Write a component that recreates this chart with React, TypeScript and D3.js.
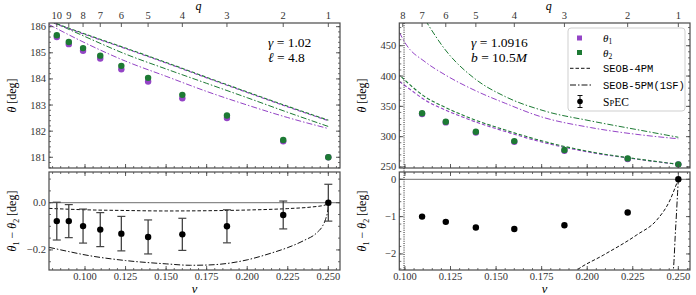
import React from "react";
import * as d3 from "d3";

// mass ratios and the symmetric mass ratio nu for each
const qAll = [10, 9, 8, 7, 6, 5, 4, 3, 2, 1];
const nuAll = [0.0826, 0.09, 0.0988, 0.1094, 0.1224, 0.1389, 0.16, 0.1875, 0.2222, 0.25];

// left case: gamma = 1.02, l = 4.8
const leftTheta1 = [185.6, 185.33, 185.08, 184.78, 184.37, 183.9, 183.26, 182.5, 181.61, 181.0];
const leftTheta2 = [185.67, 185.41, 185.18, 184.89, 184.5, 184.04, 183.39, 182.6, 181.66, 181.0];
const leftDiff = [-0.078, -0.078, -0.099, -0.114, -0.131, -0.145, -0.134, -0.1, -0.052, 0.0];
const leftDiffErr = [0.08, 0.07, 0.072, 0.072, 0.073, 0.072, 0.068, 0.07, 0.059, 0.078];

const left4PMTheta1: [number, number][] = [[0.0778, 186.2], [0.1, 185.7], [0.125, 185.16], [0.15, 184.61], [0.175, 184.04], [0.2, 183.48], [0.225, 182.93], [0.25, 182.4]];
const left4PMTheta2: [number, number][] = [[0.0778, 186.22], [0.1, 185.72], [0.125, 185.18], [0.15, 184.63], [0.175, 184.06], [0.2, 183.5], [0.225, 182.95], [0.25, 182.42]];
const left5PMTheta1: [number, number][] = [[0.0778, 186.08], [0.1, 185.38], [0.125, 184.68], [0.15, 184.1], [0.175, 183.52], [0.2, 183.0], [0.225, 182.52], [0.25, 182.1]];
const left5PMTheta2: [number, number][] = [[0.0808, 186.16], [0.1, 185.62], [0.125, 184.95], [0.15, 184.38], [0.175, 183.83], [0.2, 183.28], [0.225, 182.72], [0.25, 182.18]];
const left4PMDiff: [number, number][] = [[0.0778, -0.024], [0.1, -0.03], [0.125, -0.033], [0.15, -0.035], [0.175, -0.034], [0.2, -0.031], [0.225, -0.025], [0.24, -0.018], [0.248, -0.01], [0.25, 0]];
const left5PMDiff: [number, number][] = [[0.0778, -0.189], [0.09, -0.207], [0.1, -0.221], [0.125, -0.245], [0.15, -0.259], [0.165, -0.265], [0.175, -0.264], [0.19, -0.255], [0.2, -0.242], [0.215, -0.213], [0.225, -0.19], [0.235, -0.16], [0.2428, -0.128], [0.2465, -0.098], [0.2485, -0.066], [0.2497, -0.03], [0.25, 0]];

// right case: gamma = 1.0916, b = 10.5M  (q = 7 ... 1)
const rightNu = [0.1094, 0.1224, 0.1389, 0.16, 0.1875, 0.2222, 0.25];
const rightTheta1 = [337.5, 323.5, 306.7, 291.4, 276.7, 263.2, 254.3];
const rightTheta2 = [338.5, 324.6, 308.0, 292.7, 277.9, 264.1, 254.3];
const rightDiff = [-1.0, -1.14, -1.29, -1.33, -1.23, -0.89, 0.0];
const rightDiffErr = [0.03, 0.03, 0.03, 0.03, 0.03, 0.03, 0.03];

const right4PMTheta1: [number, number][] = [[0.0969, 391], [0.1009, 382.3], [0.111, 360.4], [0.1222, 344], [0.1386, 324.5], [0.1551, 308.5], [0.1745, 291.5], [0.2019, 274], [0.2293, 262], [0.25, 254.3]];
const right4PMTheta2: [number, number][] = [[0.0969, 402], [0.1009, 390.6], [0.111, 365.8], [0.1222, 348.3], [0.1386, 327.4], [0.1551, 310.9], [0.1745, 293.5], [0.2019, 275], [0.2293, 262.5], [0.25, 254.5]];
const right5PMTheta1: [number, number][] = [[0.0969, 472], [0.1009, 451], [0.111, 423.6], [0.1222, 401.7], [0.1386, 376], [0.1551, 355], [0.1745, 333], [0.2019, 315], [0.2293, 303], [0.25, 296.5]];
const right5PMTheta2: [number, number][] = [[0.1112, 492], [0.1222, 443], [0.1386, 395], [0.1551, 366], [0.177, 342], [0.2019, 326], [0.2293, 310.5], [0.25, 299]];
const right4PMDiff: [number, number][] = [[0.19, -2.6], [0.1944, -2.43], [0.2089, -2.03], [0.2272, -1.49], [0.2382, -1.09], [0.2455, -0.55], [0.2492, -0.1], [0.25, 0]];
const right5PMDiff: [number, number][] = [[0.247, -2.6], [0.2476, -2.2], [0.2483, -1.5], [0.249, -0.9], [0.2496, -0.35], [0.25, 0]];

const nuMajor = [0.1, 0.125, 0.15, 0.175, 0.2, 0.225, 0.25];
const leftTopTicks = [181, 182, 183, 184, 185, 186];
const leftBotTicks = [-0.2, 0.0];
const rightTopTicks = [250, 300, 350, 400, 450];
const rightBotTicks = [-2, -1, 0];

const purple = "#9444c6";
const green = "#1d7a34";
const frame = "#4a4a4a";
const serif = "'Liberation Serif', 'DejaVu Serif', serif";
const mono = "'Liberation Mono', 'DejaVu Sans Mono', monospace";

const TOP = [23, 168];
const BOT = [172, 270];

function fmt(v: number, d: number) {
  const s = v.toFixed(d);
  return s.startsWith("-") ? "\u2212" + s.slice(1) : s;
}

function ticksFor(x: any, y: any, x0: number, x1: number, y0: number, y1: number, xMaj: number[], xMinStep: number, yMaj: number[], yMinStep: number, topX: boolean, key: string) {
  const [ya, yb] = y.domain();
  const [xa, xb] = x.domain();
  const xMin = d3.range(Math.ceil(xa / xMinStep) * xMinStep, xb, xMinStep);
  const yMin = d3.range(Math.ceil(ya / yMinStep - 1e-9) * yMinStep, yb, yMinStep);
  const out: any[] = [];
  xMin.forEach((v, i) => {
    const px = x(v);
    out.push(<line key={key + "xm" + i} x1={px} x2={px} y1={y1} y2={y1 - 2} stroke={frame} strokeWidth={0.8} />);
    if (topX) out.push(<line key={key + "xmt" + i} x1={px} x2={px} y1={y0} y2={y0 + 2} stroke={frame} strokeWidth={0.8} />);
  });
  xMaj.forEach((v, i) => {
    const px = x(v);
    out.push(<line key={key + "xM" + i} x1={px} x2={px} y1={y1} y2={y1 - 4} stroke={frame} strokeWidth={0.9} />);
    if (topX) out.push(<line key={key + "xMt" + i} x1={px} x2={px} y1={y0} y2={y0 + 4} stroke={frame} strokeWidth={0.9} />);
  });
  yMin.forEach((v, i) => {
    const py = y(v);
    out.push(<line key={key + "ym" + i} x1={x0} x2={x0 + 2} y1={py} y2={py} stroke={frame} strokeWidth={0.8} />);
    out.push(<line key={key + "ymr" + i} x1={x1} x2={x1 - 2} y1={py} y2={py} stroke={frame} strokeWidth={0.8} />);
  });
  yMaj.forEach((v, i) => {
    const py = y(v);
    out.push(<line key={key + "yM" + i} x1={x0} x2={x0 + 4} y1={py} y2={py} stroke={frame} strokeWidth={0.9} />);
    out.push(<line key={key + "yMr" + i} x1={x1} x2={x1 - 4} y1={py} y2={py} stroke={frame} strokeWidth={0.9} />);
  });
  return out;
}

function Panel(props: any) {
  const { id, x0, x1, xDom, topDom, botDom, topTicks, topDec, topMinor, botTicks, botDec, botMinor, qs, qNu, th1, th2, thErr, diff, diffErr, nus, l4a, l4b, l5a, l5b, d4, d5, capW, dotted } = props;
  const x = d3.scaleLinear().domain(xDom).range([x0, x1]);
  const yT = d3.scaleLinear().domain(topDom).range([TOP[1], TOP[0]]);
  const yB = d3.scaleLinear().domain(botDom).range([BOT[1], BOT[0]]);
  const lineT = d3.line<[number, number]>().x(d => x(d[0])).y(d => yT(d[1])).curve(d3.curveMonotoneX);
  const lineB = d3.line<[number, number]>().x(d => x(d[0])).y(d => yB(d[1])).curve(d3.curveMonotoneX);
  const dash = "3.5,2";
  const dashDot = "6,2,1.5,2";
  return (
    <g>
      <defs>
        <clipPath id={id + "ct"}><rect x={x0} y={TOP[0]} width={x1 - x0} height={TOP[1] - TOP[0]} /></clipPath>
        <clipPath id={id + "cb"}><rect x={x0} y={BOT[0]} width={x1 - x0} height={BOT[1] - BOT[0]} /></clipPath>
      </defs>
      {/* top panel */}
      <g clipPath={`url(#${id}ct)`}>
        <path d={lineT(l5a) || ""} fill="none" stroke={purple} strokeWidth={1} strokeDasharray={dashDot} />
        <path d={lineT(l5b) || ""} fill="none" stroke={green} strokeWidth={1} strokeDasharray={dashDot} />
        <path d={lineT(l4a) || ""} fill="none" stroke={purple} strokeWidth={1.1} strokeDasharray={dash} />
        <path d={lineT(l4b) || ""} fill="none" stroke={green} strokeWidth={1.1} strokeDasharray={dash} strokeDashoffset={2.5} />
        {nus.map((n: number, i: number) => (
          <g key={"p1" + i}>
            <line x1={x(n)} x2={x(n)} y1={yT(th1[i] - thErr)} y2={yT(th1[i] + thErr)} stroke={purple} strokeWidth={1} />
            <line x1={x(n) - 2.5} x2={x(n) + 2.5} y1={yT(th1[i] - thErr)} y2={yT(th1[i] - thErr)} stroke={purple} strokeWidth={1} />
            <line x1={x(n) - 2.5} x2={x(n) + 2.5} y1={yT(th1[i] + thErr)} y2={yT(th1[i] + thErr)} stroke={purple} strokeWidth={1} />
            <circle cx={x(n)} cy={yT(th1[i])} r={3.2} fill={purple} />
          </g>
        ))}
        {nus.map((n: number, i: number) => (
          <g key={"p2" + i}>
            <line x1={x(n)} x2={x(n)} y1={yT(th2[i] - thErr)} y2={yT(th2[i] + thErr)} stroke={green} strokeWidth={1} />
            <line x1={x(n) - 2.5} x2={x(n) + 2.5} y1={yT(th2[i] - thErr)} y2={yT(th2[i] - thErr)} stroke={green} strokeWidth={1} />
            <line x1={x(n) - 2.5} x2={x(n) + 2.5} y1={yT(th2[i] + thErr)} y2={yT(th2[i] + thErr)} stroke={green} strokeWidth={1} />
            <circle cx={x(n)} cy={yT(th2[i])} r={3.2} fill={green} />
          </g>
        ))}
      </g>
      <rect x={x0} y={TOP[0]} width={x1 - x0} height={TOP[1] - TOP[0]} fill="none" stroke={frame} strokeWidth={1.2} />
      {ticksFor(x, yT, x0, x1, TOP[0], TOP[1], nuMajor, 0.005, topTicks, topMinor, false, id + "t")}
      {qs.map((q: number, i: number) => (
        <g key={"q" + q}>
          <line x1={x(qNu[i])} x2={x(qNu[i])} y1={TOP[0]} y2={TOP[0] + 4} stroke={frame} strokeWidth={0.9} />
          <text x={x(qNu[i])} y={19} textAnchor="middle" fontSize={10.5} fontFamily={serif} fill="#333">{q}</text>
        </g>
      ))}
      {topTicks.map((v: number) => (
        <text key={"yt" + v} x={x0 - 3} y={yT(v) + 3.5} textAnchor="end" fontSize={10.5} fontFamily={serif} fill="#333">{fmt(v, topDec)}</text>
      ))}
      <text x={(x0 + x1) / 2 + 4} y={10} textAnchor="middle" fontSize={12} fontStyle="italic" fontFamily={serif}>q</text>
      <text transform={`translate(${x0 - 33},${(TOP[0] + TOP[1]) / 2}) rotate(-90)`} textAnchor="middle" fontSize={12} fontFamily={serif}>
        <tspan fontStyle="italic">θ</tspan> [deg]
      </text>

      {/* bottom panel */}
      <g clipPath={`url(#${id}cb)`}>
        <line x1={x0} x2={x1} y1={yB(0)} y2={yB(0)} stroke="#8a8a8a" strokeWidth={1.3} />
        <path d={lineB(d4) || ""} fill="none" stroke="#111" strokeWidth={1} strokeDasharray={dash} />
        <path d={lineB(d5) || ""} fill="none" stroke="#111" strokeWidth={1} strokeDasharray={dashDot} />
        {nus.map((n: number, i: number) => (
          <g key={"d" + i}>
            <line x1={x(n)} x2={x(n)} y1={yB(diff[i] - diffErr[i])} y2={yB(diff[i] + diffErr[i])} stroke="#444" strokeWidth={1.3} />
            <line x1={x(n) - capW} x2={x(n) + capW} y1={yB(diff[i] - diffErr[i])} y2={yB(diff[i] - diffErr[i])} stroke="#444" strokeWidth={1.2} />
            <line x1={x(n) - capW} x2={x(n) + capW} y1={yB(diff[i] + diffErr[i])} y2={yB(diff[i] + diffErr[i])} stroke="#444" strokeWidth={1.2} />
            <circle cx={x(n)} cy={yB(diff[i])} r={3.2} fill="#000" />
          </g>
        ))}
      </g>
      <rect x={x0} y={BOT[0]} width={x1 - x0} height={BOT[1] - BOT[0]} fill="none" stroke={frame} strokeWidth={1.2} />
      {ticksFor(x, yB, x0, x1, BOT[0], BOT[1], nuMajor, 0.005, botTicks, botMinor, true, id + "b")}
      {nuMajor.map(v => (
        <text key={"xt" + v} x={x(v)} y={280} textAnchor="middle" fontSize={10.5} fontFamily={serif} fill="#333">{v.toFixed(3)}</text>
      ))}
      {botTicks.map((v: number) => (
        <text key={"yb" + v} x={x0 - 3} y={yB(v) + 3.5} textAnchor="end" fontSize={10.5} fontFamily={serif} fill="#333">{fmt(v, botDec)}</text>
      ))}
      <text x={(x0 + x1) / 2} y={293} textAnchor="middle" fontSize={12.5} fontStyle="italic" fontFamily={serif}>ν</text>
      <text transform={`translate(${x0 - 33},${(BOT[0] + BOT[1]) / 2}) rotate(-90)`} textAnchor="middle" fontSize={12} fontFamily={serif}>
        <tspan fontStyle="italic">θ</tspan><tspan fontSize={8} dy={2.5}>1</tspan><tspan dy={-2.5}> − </tspan>
        <tspan fontStyle="italic">θ</tspan><tspan fontSize={8} dy={2.5}>2</tspan><tspan dy={-2.5}> [deg]</tspan>
      </text>
      {dotted !== undefined && (
        <line x1={x(dotted)} x2={x(dotted)} y1={TOP[0]} y2={BOT[1]} stroke="#222" strokeWidth={1} strokeDasharray="1,1.2" />
      )}
    </g>
  );
}

export default function App() {
  return (
    <svg width={696} height={295} style={{ position: "absolute", left: 0, top: 0, background: "#fff" }}>
      <Panel id="L" x0={49} x1={340} xDom={[0.0778, 0.2572]} topDom={[180.59, 186.14]} botDom={[-0.285, 0.13]}
        topTicks={leftTopTicks} topDec={0} topMinor={0.2} botTicks={leftBotTicks} botDec={1} botMinor={0.05}
        qs={qAll} qNu={nuAll} th1={leftTheta1} th2={leftTheta2} thErr={0.03} diff={leftDiff} diffErr={leftDiffErr} nus={nuAll}
        l4a={left4PMTheta1} l4b={left4PMTheta2} l5a={left5PMTheta1} l5b={left5PMTheta2} d4={left4PMDiff} d5={left5PMDiff} capW={4} />
      <Panel id="R" x0={399.3} x1={690} xDom={[0.0969, 0.2564]} topDom={[248.3, 487.5]} botDom={[-2.43, 0.195]}
        topTicks={rightTopTicks} topDec={0} topMinor={10} botTicks={rightBotTicks} botDec={0} botMinor={0.2}
        qs={qAll.slice(2)} qNu={nuAll.slice(2)} th1={rightTheta1} th2={rightTheta2} thErr={1.2} diff={rightDiff} diffErr={rightDiffErr} nus={rightNu}
        l4a={right4PMTheta1} l4b={right4PMTheta2} l5a={right5PMTheta1} l5b={right5PMTheta2} d4={right4PMDiff} d5={right5PMDiff} capW={2.5} dotted={0.0995} />

      {/* annotations */}
      <g fontFamily={serif} fontSize={13.5}>
        <text x={268} y={47}><tspan fontStyle="italic">γ</tspan> = 1.02</text>
        <text x={268} y={62}><tspan fontStyle="italic">ℓ</tspan> = 4.8</text>
        <text x={471} y={47}><tspan fontStyle="italic">γ</tspan> = 1.0916</text>
        <text x={471} y={62}><tspan fontStyle="italic">b</tspan> = 10.5<tspan fontStyle="italic">M</tspan></text>
      </g>

      {/* legend */}
      <g>
        <rect x={568} y={28} width={117} height={83} rx={3} fill="#fff" fillOpacity={0.85} stroke="#cfcfcf" strokeWidth={1} />
        <rect x={577} y={35.5} width={5} height={5} fill={purple} />
        <text x={603} y={42} fontSize={11} fontFamily={serif}><tspan fontStyle="italic">θ</tspan><tspan fontSize={7.5} dy={2}>1</tspan></text>
        <rect x={577} y={50} width={5} height={5} fill={green} />
        <text x={603} y={56.5} fontSize={11} fontFamily={serif}><tspan fontStyle="italic">θ</tspan><tspan fontSize={7.5} dy={2}>2</tspan></text>
        <line x1={570} x2={591} y1={68.3} y2={68.3} stroke="#111" strokeWidth={1} strokeDasharray="3.5,2" />
        <text x={603} y={72} fontSize={10.5} fontFamily={mono}>SEOB-4PM</text>
        <line x1={570} x2={591} y1={85} y2={85} stroke="#111" strokeWidth={1} strokeDasharray="6,2,1.5,2" />
        <text x={603} y={88.5} fontSize={10.5} fontFamily={mono}>SEOB-5PM(1SF)</text>
        <line x1={580} x2={580} y1={95.5} y2={107.5} stroke="#111" strokeWidth={1} />
        <line x1={577.5} x2={582.5} y1={95.5} y2={95.5} stroke="#111" strokeWidth={1} />
        <line x1={577.5} x2={582.5} y1={107.5} y2={107.5} stroke="#111" strokeWidth={1} />
        <circle cx={580} cy={101.5} r={2.8} fill="#000" />
        <text x={603} y={105.5} fontSize={11.5} fontFamily={serif}>S<tspan fontSize={8.5}>P</tspan>EC</text>
      </g>
    </svg>
  );
}
